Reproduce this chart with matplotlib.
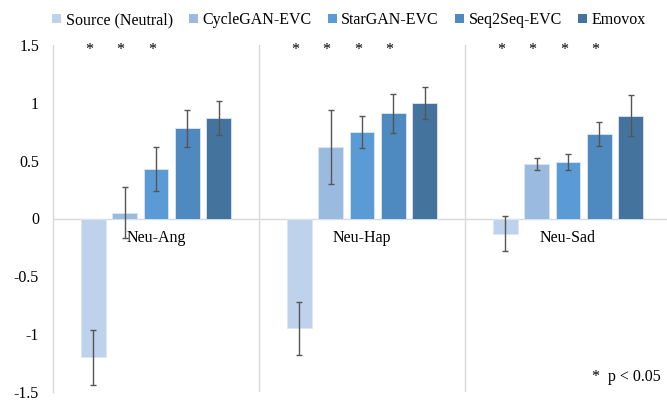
import numpy as np
import matplotlib
matplotlib.use('Agg')
import matplotlib.pyplot as plt
from matplotlib.patches import Patch

plt.rcParams['font.family'] = ['Liberation Serif', 'DejaVu Serif']

groups = ['Neu-Ang', 'Neu-Hap', 'Neu-Sad']
systems = ['Source (Neutral)', 'CycleGAN-EVC', 'StarGAN-EVC', 'Seq2Seq-EVC', 'Emovox']
colors = ['#BED2EB', '#9BBAE0', '#5B9BD5', '#4E89BF', '#44739E']

# mean scores, one list per system (Neu-Ang, Neu-Hap, Neu-Sad)
source_vals = [-1.20, -0.95, -0.13]
cyclegan_vals = [0.05, 0.62, 0.47]
stargan_vals = [0.43, 0.75, 0.49]
seq2seq_vals = [0.78, 0.91, 0.73]
emovox_vals = [0.87, 1.00, 0.89]

source_err = [0.24, 0.23, 0.15]
cyclegan_err = [0.22, 0.32, 0.05]
stargan_err = [0.19, 0.14, 0.07]
seq2seq_err = [0.16, 0.17, 0.10]
emovox_err = [0.15, 0.14, 0.18]

# significant systems per group (index into systems)
stars = [[0, 1, 2], [0, 1, 2, 3], [0, 1, 2, 3]]

values = [source_vals, cyclegan_vals, stargan_vals, seq2seq_vals, emovox_vals]
errors = [source_err, cyclegan_err, stargan_err, seq2seq_err, emovox_err]

fig = plt.figure(figsize=(6.67, 4.0), dpi=100)
ax = fig.add_axes([53 / 667, 8 / 400, 618 / 667, 347 / 400])

x = np.arange(len(groups))
step = 0.152
width = 0.119
for i, (vals, errs) in enumerate(zip(values, errors)):
    pos = x + (i - 2) * step
    ax.bar(pos, vals, width, color=colors[i], edgecolor='#DCE6F2',
           linewidth=0.6, label=systems[i], zorder=2)
    ax.errorbar(pos, vals, yerr=errs, fmt='none', ecolor='#555555',
                elinewidth=1.0, capsize=2.2, capthick=1.0, zorder=3)

for g, idx in enumerate(stars):
    for i in idx:
        ax.text(x[g] + (i - 2) * step - 0.02, 1.46, '*', ha='center',
                va='center', fontsize=11.5, color='black')

for g, name in enumerate(groups):
    ax.text(x[g], -0.17, name, ha='center', va='center', fontsize=11.5,
            color='black')

ax.text(2.116, -1.37, '*  p < 0.05', ha='left', va='center', fontsize=11.5,
        color='black')

ax.set_xlim(-0.5, 2.5)
ax.set_ylim(-1.5, 1.5)
ax.set_yticks([-1.5, -1, -0.5, 0, 0.5, 1, 1.5])
ax.set_yticklabels(['-1.5', '-1', '-0.5', '0', '0.5', '1', '1.5'])
ax.set_xticks([])
ax.tick_params(axis='y', length=0, pad=10, labelsize=11.5, labelcolor='black')

for s in ['top', 'right', 'bottom']:
    ax.spines[s].set_visible(False)
ax.spines['left'].set_color('#D9D9D9')
ax.spines['left'].set_linewidth(1.0)
ax.axhline(0, color='#D9D9D9', linewidth=1.0, zorder=1)
for b in [0.5, 1.5, 2.5]:
    ax.axvline(b, color='#D9D9D9', linewidth=1.0, zorder=1)

handles = [Patch(facecolor=c, edgecolor='none') for c in colors]
ax.legend(handles, systems, loc='center',
          bbox_to_anchor=(349 / 667, 1 - 20 / 400),
          bbox_transform=fig.transFigure, ncol=5, frameon=False,
          fontsize=11.5, handlelength=0.55, handleheight=0.55,
          handletextpad=0.3, columnspacing=1.0, borderaxespad=0)

fig.savefig('out.png', dpi=100)
